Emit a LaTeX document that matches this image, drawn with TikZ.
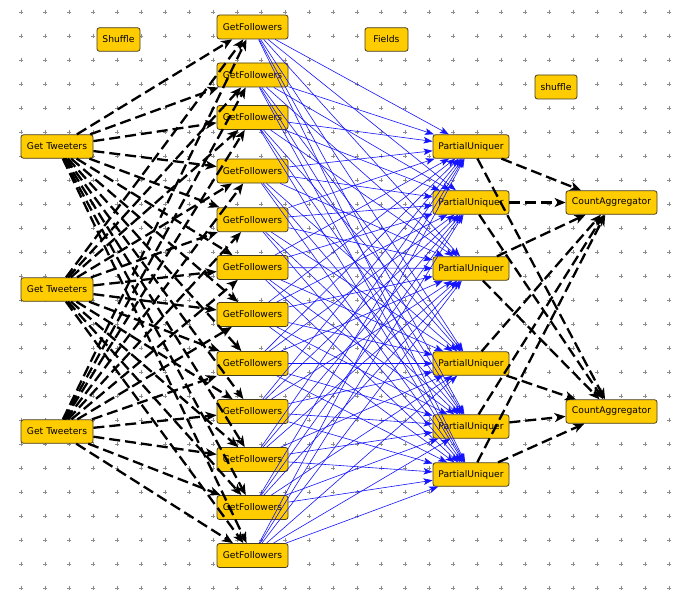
\documentclass[tikz,border=0pt]{standalone}
\usepackage{fontspec}
\setmainfont{DejaVu Sans}
\usetikzlibrary{arrows.meta}
\definecolor{boxfill}{RGB}{255,204,0}
\definecolor{boxline}{RGB}{70,60,30}
\definecolor{dotcol}{RGB}{140,140,140}
\definecolor{edgeblue}{RGB}{20,20,255}
\begin{document}
\begin{tikzpicture}[x=1pt,y=-1pt,
  box/.style={draw=boxline,fill=boxfill,rounded corners=2.5pt,line width=0.8pt,
    inner sep=0pt,minimum height=23.5pt,font=\fontsize{9.2}{10}\selectfont},
  gt/.style={box,minimum width=72pt},
  gf/.style={box,minimum width=71pt},
  pu/.style={box,minimum width=76pt},
  ca/.style={box,minimum width=91pt},
  lab/.style={box,minimum width=43pt},
  dashedge/.style={draw=black,line width=2.3pt,dash pattern=on 11pt off 5pt,
    -{Stealth[length=11pt,width=9pt,inset=3pt]}},
  blueedge/.style={draw=edgeblue,line width=0.6pt,
    -{Stealth[length=9pt,width=6.5pt,inset=2pt]}}]
\useasboundingbox[fill=white] (0,0) rectangle (692,599);
% grid of plus marks
\foreach \i in {0,...,27}{
  \foreach \j in {0,...,24}{
    \draw[dotcol,line width=0.6pt] (21+24*\i-2,12+24*\j) -- ++(4,0)
      (21+24*\i,12+24*\j-2) -- ++(0,4);
  }
}
% labels
\node[lab] (lshuffle) at (118.5,39.5) {Shuffle};
\node[lab] (lfields) at (386.5,39.5) {Fields};
\node[lab,minimum width=42pt,minimum height=24pt] (lshuffle2) at (556,87) {shuffle};
% Get Tweeters
\node[gt] (t1) at (57,146.5) {Get Tweeters};
\node[gt] (t2) at (57,289.5) {Get Tweeters};
\node[gt] (t3) at (57,431.5) {Get Tweeters};
% GetFollowers
\foreach \n/\y in {1/27,2/75,3/117.5,4/171,5/219.7,6/267.5,7/314.5,8/363.5,9/411.5,10/459.5,11/507.5,12/555.5}{
  \node[gf,minimum height=24pt] (f\n) at (252.5,\y) {GetFollowers};
}
% PartialUniquer
\foreach \n/\y in {1/146.5,2/202.5,3/268.5,4/363.5,5/426.5,6/474.5}{
  \node[pu] (p\n) at (471,\y) {PartialUniquer};
}
% CountAggregator
\node[ca] (c1) at (611.5,202.5) {CountAggregator};
\node[ca] (c2) at (611.5,411.5) {CountAggregator};
% edges Get Tweeters -> GetFollowers
\foreach \t in {1,2,3}{
  \foreach \f in {1,...,12}{
    \draw[dashedge] (t\t) -- (f\f);
  }
}
% edges GetFollowers -> PartialUniquer
\foreach \f in {1,...,12}{
  \foreach \p in {1,...,6}{
    \draw[blueedge] (f\f) -- (p\p);
  }
}
% edges PartialUniquer -> CountAggregator
\foreach \p in {1,...,6}{
  \foreach \c in {1,2}{
    \draw[dashedge] (p\p) -- (c\c);
  }
}
\end{tikzpicture}
\end{document}
